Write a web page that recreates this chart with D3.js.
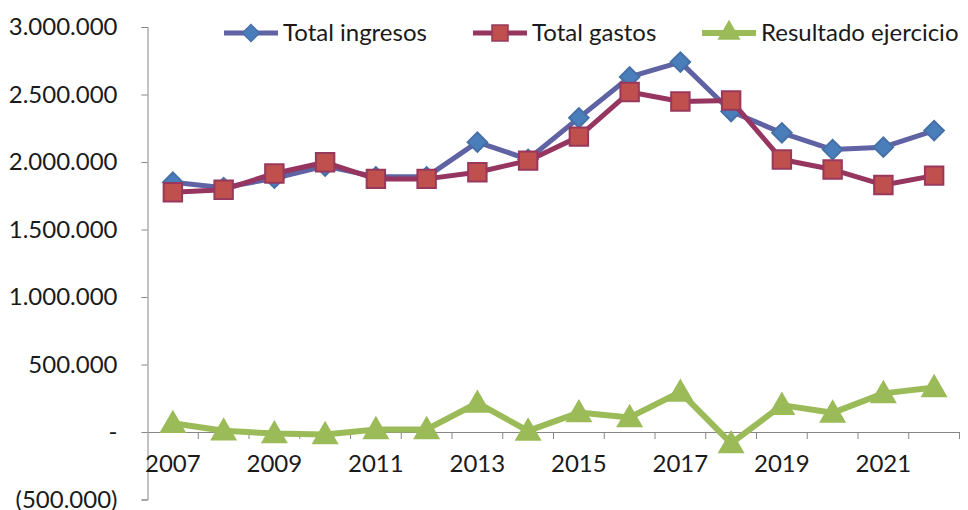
<!DOCTYPE html>
<html>
<head>
<meta charset="utf-8">
<script src="https://cdn.jsdelivr.net/npm/d3@7"></script>
<style>
  body { margin: 0; background: #fff; }
  svg text { font-family: Lato, "Open Sans", sans-serif; fill: #1a1a1a; }
</style>
</head>
<body>
<div id="chart"></div>
<script>
// data
var years = ["2007", "2008", "2009", "2010", "2011", "2012", "2013", "2014",
             "2015", "2016", "2017", "2018", "2019", "2020", "2021", "2022"];
var ingresos = [1850000, 1810000, 1880000, 1970000, 1890000, 1890000, 2147000, 2020000,
                2327000, 2630000, 2740000, 2374000, 2216000, 2092000, 2110000, 2233000];
var gastos = [1776000, 1795000, 1915000, 1998000, 1875000, 1875000, 1924000, 2010000,
              2188000, 2518000, 2448000, 2455000, 2018000, 1944000, 1830000, 1899000];
var resultado = [65000, 9000, -11000, -18000, 19000, 19000, 215000, 8000,
                 144000, 108000, 296000, -85000, 199000, 142000, 286000, 330000];
var yTicks = [-500000, 0, 500000, 1000000, 1500000, 2000000, 2500000, 3000000];
var seriesNames = ["Total ingresos", "Total gastos", "Resultado ejercicio"];

var width = 968, height = 510;
var plotLeft = 147.5, plotRight = 959.5, plotTop = 27, plotBottom = 499.5;

var svg = d3.select("#chart")
  .append("svg")
  .attr("width", width)
  .attr("height", height);

var x = d3.scaleBand()
  .domain(years)
  .range([plotLeft, plotRight]);

var y = d3.scaleLinear()
  .domain([-500000, 3000000])
  .range([plotBottom, plotTop]);

function fmt(v) {
  if (v === 0) return "-";
  var s = d3.format(",")(Math.abs(v)).replace(/,/g, ".");
  return v < 0 ? "(" + s + ")" : s;
}

var axisColor = "#868686";

// y axis
var yAxis = svg.append("g")
  .attr("transform", "translate(" + plotLeft + ",0)")
  .call(d3.axisLeft(y).tickValues(yTicks).tickFormat(fmt).tickSize(6).tickPadding(24));
yAxis.select(".domain").attr("stroke", axisColor);
yAxis.selectAll(".tick line").attr("stroke", axisColor);
yAxis.selectAll(".tick text")
  .style("font-size", "24px")
  .style("font-family", "Lato, sans-serif")
  .attr("fill", "#1a1a1a");

// x axis sits on the zero line
var xAxis = svg.append("g")
  .attr("transform", "translate(0," + y(0) + ")")
  .call(d3.axisBottom(x).tickSize(0).tickPadding(23)
    .tickFormat(function (d, i) { return i % 2 === 0 ? d : ""; }));
xAxis.select(".domain").attr("stroke", axisColor);
xAxis.selectAll(".tick text")
  .style("font-size", "24px")
  .style("font-family", "Lato, sans-serif")
  .attr("fill", "#1a1a1a");

// tick marks at band boundaries
xAxis.selectAll(".bandTick")
  .data(years)
  .enter()
  .append("line")
  .attr("x1", function (d) { return x(d) + x.step(); })
  .attr("x2", function (d) { return x(d) + x.step(); })
  .attr("y1", 0)
  .attr("y2", 7)
  .attr("stroke", axisColor);

var cx = function (d, i) { return x(years[i]) + x.bandwidth() / 2; };

var line = d3.line()
  .x(function (d, i) { return x(years[i]) + x.bandwidth() / 2; })
  .y(function (d) { return y(d); });

// rotation per marker: the diamond is a square turned 45 degrees
var series = [
  { name: seriesNames[0], values: ingresos, stroke: "#5f62a3", width: 5, marker: d3.symbolSquare, rot: 45, size: 190, fill: "#4a7ebb", mstroke: "#4670a8" },
  { name: seriesNames[1], values: gastos, stroke: "#953560", width: 5, marker: d3.symbolSquare, rot: 0, size: 340, fill: "#c0504d", mstroke: "#98385c" },
  { name: seriesNames[2], values: resultado, stroke: "#9bbb59", width: 6, marker: d3.symbolTriangle, rot: 0, size: 240, fill: "#9bbb59", mstroke: "#9bbb59" }
];

series.forEach(function (s) {
  svg.append("path")
    .datum(s.values)
    .attr("fill", "none")
    .attr("stroke", s.stroke)
    .attr("stroke-width", s.width)
    .attr("stroke-linejoin", "round")
    .attr("d", line);

  svg.selectAll(null)
    .data(s.values)
    .enter()
    .append("path")
    .attr("d", d3.symbol().type(s.marker).size(s.size))
    .attr("transform", function (d, i) {
      var dy = s.marker === d3.symbolTriangle ? 2 : 0;
      return "translate(" + cx(d, i) + "," + (y(d) + dy) + ") rotate(" + s.rot + ")";
    })
    .attr("fill", s.fill)
    .attr("stroke", s.mstroke)
    .attr("stroke-width", 2);
});

// legend
var legendX = [224, 473, 702];
var legend = svg.selectAll(".legend")
  .data(series)
  .enter()
  .append("g")
  .attr("class", "legend")
  .attr("transform", function (d, i) { return "translate(" + legendX[i] + ",33)"; });

legend.append("line")
  .attr("x1", 0)
  .attr("x2", 54)
  .attr("stroke", function (d) { return d.stroke; })
  .attr("stroke-width", function (d) { return d.width; });

legend.append("path")
  .attr("d", function (d) { return d3.symbol().type(d.marker).size(d.size * 0.75)(); })
  .attr("transform", function (d) { return "translate(27,0) rotate(" + d.rot + ")"; })
  .attr("fill", function (d) { return d.fill; })
  .attr("stroke", function (d) { return d.mstroke; })
  .attr("stroke-width", 1.5);

legend.append("text")
  .attr("x", 59)
  .attr("dy", "0.35em")
  .style("font-size", "24px")
  .text(function (d) { return d.name; });
</script>
</body>
</html>
